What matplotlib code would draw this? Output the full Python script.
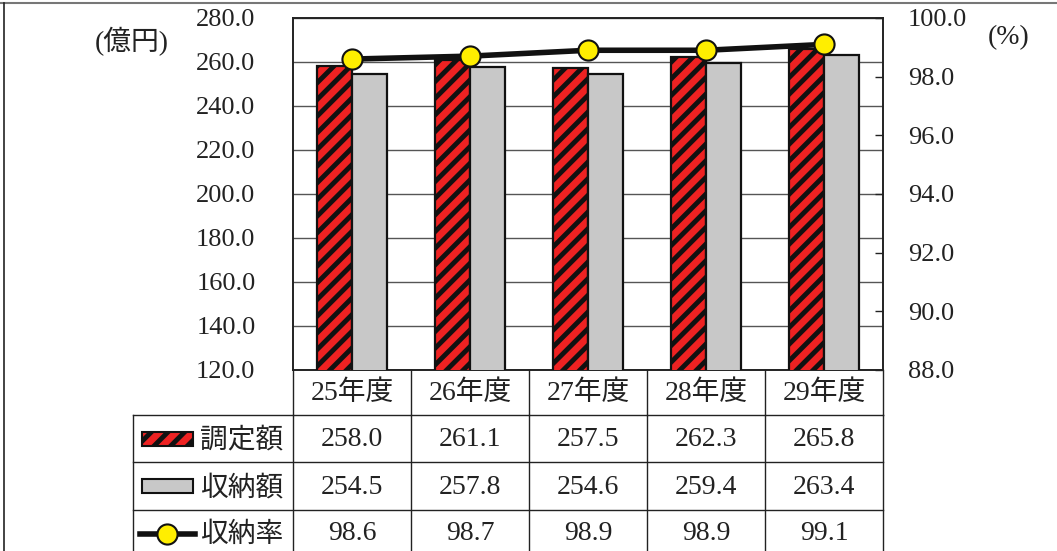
import matplotlib
matplotlib.use("Agg")
import matplotlib.pyplot as plt
from matplotlib.patches import Rectangle
from matplotlib.lines import Line2D

# ---- data ----
years = ["25年度", "26年度", "27年度", "28年度", "29年度"]
chotei = [258.0, 261.1, 257.5, 262.3, 265.8]      # 調定額 (億円)
shuno = [254.5, 257.8, 254.6, 259.4, 263.4]       # 収納額 (億円)
rate = [98.6, 98.7, 98.9, 98.9, 99.1]             # 収納率 (%)
series_names = ["調定額", "収納額", "収納率"]
left_ticks = [120, 140, 160, 180, 200, 220, 240, 260, 280]
right_ticks = [88, 90, 92, 94, 96, 98, 100]

W, H = 1057, 551
FONT = ["Liberation Serif", "Noto Sans CJK JP", "DejaVu Sans"]
plt.rcParams["font.family"] = FONT
plt.rcParams["hatch.linewidth"] = 3.5
plt.rcParams["hatch.color"] = "black"
TC = "#222222"

fig = plt.figure(figsize=(W / 100, H / 100), dpi=100)

# plot area in pixels
px0, px1, py0, py1 = 293, 883, 18, 370
ax = fig.add_axes([px0 / W, 1 - py1 / H, (px1 - px0) / W, (py1 - py0) / H])
n = len(years)
xs = list(range(n))
bw = 0.295
ax.bar([x - bw / 2 for x in xs], chotei, width=bw, color="#ee2222",
       edgecolor="#111111", linewidth=1.6, hatch="//", zorder=3)
ax.bar([x + bw / 2 for x in xs], shuno, width=bw, color="#c8c8c8",
       edgecolor="#111111", linewidth=1.6, zorder=3)
ax.set_xlim(-0.5, n - 0.5)
ax.set_ylim(120, 280)
ax.set_yticks(left_ticks)
ax.set_yticklabels([f"{v:.1f}" for v in left_ticks], fontsize=19, color=TC)
ax.tick_params(axis="y", length=0, pad=27)
ax.set_xticks([])
ax.grid(axis="y", color="#555555", linewidth=1.0, zorder=0)
for s in ax.spines.values():
    s.set_color("#222222")
    s.set_linewidth(1.4)

ax2 = ax.twinx()
ax2.plot(xs, rate, color="#111111", linewidth=4, marker="o", markersize=14.5,
         markerfacecolor="#ffee00", markeredgecolor="#111111", markeredgewidth=1.5,
         zorder=5)
ax2.set_ylim(88, 100)
ax2.set_yticks(right_ticks)
ax2.set_yticklabels([f"{v:.1f}" for v in right_ticks], fontsize=19, color=TC)
ax2.tick_params(axis="y", direction="in", length=6, width=1.0, pad=18, color=TC)
ax2.set_xlim(-0.5, n - 0.5)
for s in ax2.spines.values():
    s.set_visible(False)

# axis unit labels
fig.text(95 / W, 1 - 42 / H, "(億円)", fontsize=20, color=TC,
         ha="left", va="center")
fig.text(988 / W, 1 - 38 / H, "(%)", fontsize=20, color=TC,
         ha="left", va="center")

# ---- overlay for table and frame ----
ov = fig.add_axes([0, 0, 1, 1], facecolor="none")
ov.set_xlim(0, W)
ov.set_ylim(H, 0)
ov.axis("off")

lc = "#222222"
col_w = (px1 - px0) / n
cols = [px0 + i * col_w for i in range(n + 1)]
lab_x0 = 133
row_y = [py1, 415, 462, 510, H + 5]

# header row verticals
for c in cols:
    ov.plot([c, c], [py1, row_y[1]], color=lc, lw=1.0)
# body lines
for y in row_y[1:4]:
    ov.plot([lab_x0, cols[-1]], [y, y], color=lc, lw=1.0)
for c in [lab_x0] + cols:
    ov.plot([c, c], [row_y[1], H], color=lc, lw=1.0)

# header texts
for i, yl in enumerate(years):
    ov.text((cols[i] + cols[i + 1]) / 2, (row_y[0] + row_y[1]) / 2 + 1, yl,
            ha="center", va="center", fontsize=20, color=TC)

rows = [chotei, shuno, rate]
for r, vals in enumerate(rows):
    yc = (row_y[r + 1] + min(row_y[r + 2], H)) / 2 + (3 if r == 2 else 1)
    for i, v in enumerate(vals):
        ov.text((cols[i] + cols[i + 1]) / 2, yc, f"{v:.1f}", ha="center",
                va="center", fontsize=20, color=TC)
    ov.text(200, yc, series_names[r], ha="left", va="center", fontsize=20,
            color=TC, family=["Noto Sans CJK JP", "DejaVu Sans"])

# legend swatches
y1 = (row_y[1] + row_y[2]) / 2
ov.add_patch(Rectangle((142, y1 - 7), 51, 14, facecolor="#ee2222",
                       edgecolor="#111111", lw=1.5, hatch="//"))
y2 = (row_y[2] + row_y[3]) / 2
ov.add_patch(Rectangle((142, y2 - 7), 51, 14, facecolor="#c8c8c8",
                       edgecolor="#111111", lw=1.5))
y3 = (row_y[3] + H) / 2 + 3
ov.add_line(Line2D([140, 195], [y3, y3], color="#111111", lw=4))
ov.plot([167], [y3], marker="o", markersize=14.5, markerfacecolor="#ffee00",
        markeredgecolor="#111111", markeredgewidth=1.5)

# outer frame
ov.plot([0, W], [3, 3], color="#777777", lw=1.5)
ov.plot([4, 4], [3, H], color="#222222", lw=1.2)

fig.savefig("out.png", dpi=100)
